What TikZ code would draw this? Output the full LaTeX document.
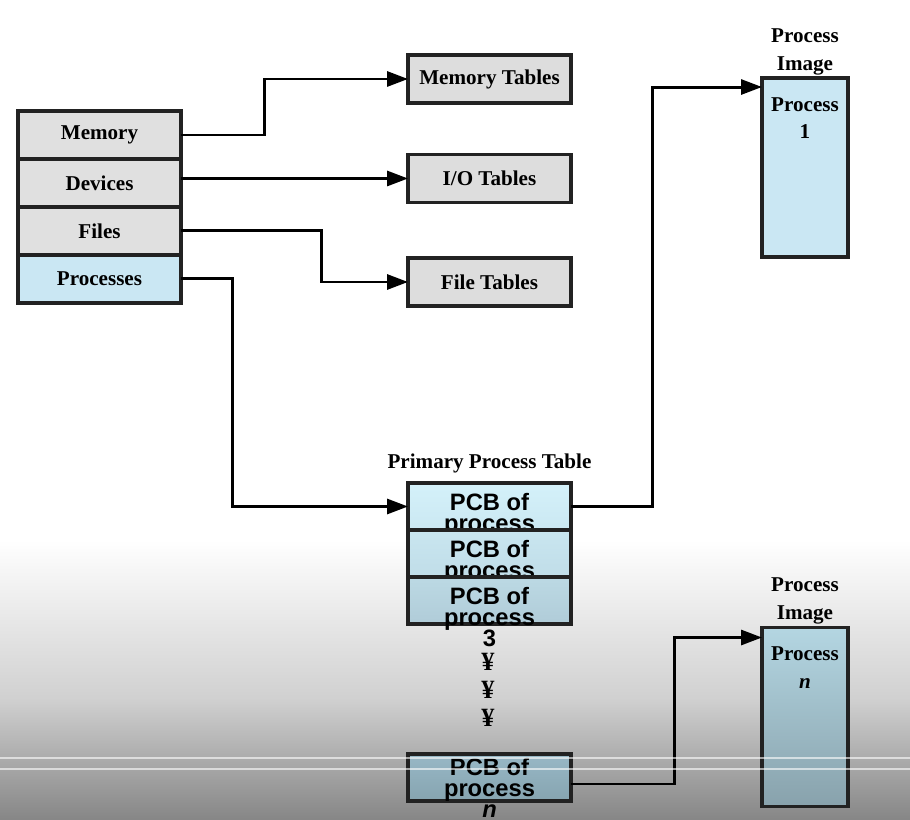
\documentclass[tikz,border=0pt]{standalone}
\usepackage{fontspec}
\setmainfont{Liberation Serif}
\newfontfamily\pcbfont{Liberation Sans}
\usetikzlibrary{shapes,arrows.meta,positioning,calc}
\definecolor{edge}{HTML}{222222}
\definecolor{resgray}{HTML}{E0E0E0}
\definecolor{tabgray}{HTML}{DDDDDD}
\definecolor{procblue}{HTML}{CAE7F3}
\definecolor{bgmid}{HTML}{D0D0D0}
\definecolor{bglow}{HTML}{868686}
\definecolor{pcbAtop}{HTML}{D4F1FA}
\definecolor{pcbAbot}{HTML}{CBE8F2}
\definecolor{pcbBtop}{HTML}{C9E6F0}
\definecolor{pcbBbot}{HTML}{C0DDE8}
\definecolor{pcbCtop}{HTML}{BCD9E4}
\definecolor{pcbCbot}{HTML}{B0CCD8}
\definecolor{pcbNtop}{HTML}{98B8C6}
\definecolor{pcbNbot}{HTML}{86A4B0}
\definecolor{imgNtop}{HTML}{B4D6E2}
\definecolor{imgNbot}{HTML}{88A2AC}
\tikzset{
    resource/.style={
        rectangle,
        draw=edge,
        line width=1.8pt,
        fill=resgray,
        minimum width=3.26cm,
        minimum height=0.96cm,
        inner sep=0pt,
        outer sep=0pt,
        font=\bfseries\fontsize{12}{15}\selectfont
    },
    tabbox/.style={
        resource,
        fill=tabgray
    },
    heading/.style={
        inner sep=0pt,
        align=center,
        font=\bfseries\fontsize{12}{15.8}\selectfont
    },
    pcb/.style={
        rectangle,
        draw=edge,
        line width=1.8pt,
        minimum width=3.26cm,
        minimum height=0.94cm,
        inner sep=0pt,
        outer sep=0pt
    },
    pcbtext/.style={
        inner sep=0pt,
        align=center,
        font={\pcbfont\bfseries\fontsize{13.5}{12}\selectfont\lineskiplimit=-20pt}
    },
    imagebox/.style={
        rectangle,
        draw=edge,
        line width=1.8pt,
        minimum width=1.72cm,
        minimum height=3.58cm,
        inner sep=0pt,
        outer sep=0pt
    },
    arrow/.style={
        -{Triangle[length=0.42cm,width=0.3cm]},
        line width=1.7pt
    }
}

\begin{document}
\begin{tikzpicture}[x=0.02cm, y=-0.02cm, node distance=0pt]
        % Background
        \useasboundingbox (0,0) rectangle (910,820);
        \fill[white] (0,0) rectangle (910,541);
        \shade[top color=white, bottom color=bgmid] (0,540) rectangle (910,700);
        \shade[top color=bgmid, bottom color=bglow] (0,699) rectangle (910,820);

        % Resources
        \node (memory) [resource] at (99.5,135) {Memory};
        \node (devices) [resource, below=of memory] {Devices};
        \node (files) [resource, below=of devices] {Files};
        \node (processes) [resource, fill=procblue, below=of files] {Processes};

        % Tables
        \node (memtab) [tabbox] at (489.5,79) {Memory Tables};
        \node (iotab) [tabbox] at (489.5,178.5) {I/O Tables};
        \node (filetab) [tabbox] at (489.5,282) {File Tables};

        % Primary process table
        \node (pcb1) [pcb, top color=pcbAtop, bottom color=pcbAbot] at (489.5,506.5) {};
        \node (pcb1txt) [pcbtext, below=0.19cm of pcb1.north] {PCB of\\process};
        \node (pcb2) [pcb, top color=pcbBtop, bottom color=pcbBbot, below=of pcb1] {};
        \node (pcb2txt) [pcbtext, below=0.19cm of pcb2.north] {PCB of\\process};
        \node (pcb3) [pcb, top color=pcbCtop, bottom color=pcbCbot, below=of pcb2] {};
        \node (pcb3txt) [pcbtext, below=0.19cm of pcb3.north] {PCB of\\process\\3};
        \node (pcbn) [pcb, top color=pcbNtop, bottom color=pcbNbot] at (489.5,777.5) {};
        \node (pcbntxt) [pcbtext, below=0.08cm of pcbn.north] {PCB of\\process\\\textit{n}};
        \node (ptitle) [heading, above=0.2cm of pcb1] {Primary Process Table};
        \foreach \y [count=\i] in {662,690,718}
            \node (gap\i) [heading, font=\bfseries\fontsize{15}{16}\selectfont] at (488,\y) {¥};

        % Process images
        \node (image1) [imagebox, fill=procblue] at (805,167.5) {};
        \node (image1txt) [heading, below=0.38cm of image1.north] {Process\\1};
        \node (image1top) [heading, above=0.06cm of image1] {Process\\Image};
        \node (imagen) [imagebox, top color=imgNtop, bottom color=imgNbot] at (805,717) {};
        \node (imagentxt) [heading, below=0.38cm of imagen.north] {Process\\\textit{n}};
        \node (imagentop) [heading, above=0.06cm of imagen] {Process\\Image};

        % Arrows
        \draw[arrow] (memory.east) -- ++(84,0) |- (memtab);
        \draw[arrow] (devices.east |- iotab) -- (iotab);
        \draw[arrow] (files.east) -- ++(141,0) |- (filetab);
        \draw[arrow] (processes.east) -- ++(52,0) |- (pcb1);
        \draw[arrow] (pcb1.east) -- ++(82,0) |- ([yshift=-0.18cm]image1.north west);
        \draw[arrow] ([yshift=-0.13cm]pcbn.east) -- ++(104,0) |- ([yshift=-0.2cm]imagen.north west);

        % Screen lines
        \draw[white, opacity=0.6, line width=0.8pt] (0,758) -- (910,758);
        \draw[white, opacity=0.6, line width=0.8pt] (0,769) -- (910,769);
    \end{tikzpicture}
\end{document}
